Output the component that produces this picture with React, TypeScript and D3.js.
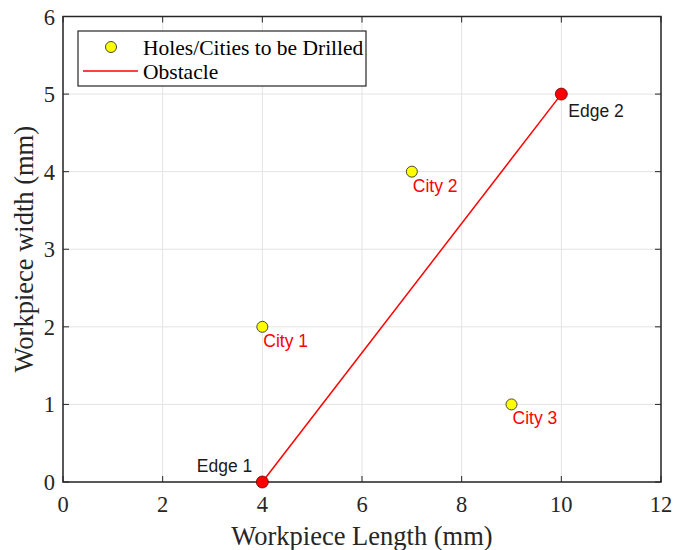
import React, { useEffect, useRef } from 'react'
import * as d3 from 'd3'

const cityNames = ['City 1', 'City 2', 'City 3']
const cityX = [4, 7, 9]
const cityY = [2, 4, 1]
const edgeNames = ['Edge 1', 'Edge 2']
const edgeX = [4, 10]
const edgeY = [0, 5]
const xTicks = [0, 2, 4, 6, 8, 10, 12]
const yTicks = [0, 1, 2, 3, 4, 5, 6]

const W = 686
const H = 550
const m = { left: 63, right: 25, top: 16.5, bottom: 68 }

const App = () => {
    const svgRef = useRef<SVGSVGElement>(null)

    useEffect(() => {
        const svg = d3.select(svgRef.current)
        svg.selectAll('*').remove()

        const x = d3.scaleLinear().domain([0, 12]).range([m.left, W - m.right])
        const y = d3.scaleLinear().domain([0, 6]).range([H - m.bottom, m.top])
        const serif = '"Liberation Serif", "Times New Roman", serif'
        const sans = '"Liberation Sans", Arial, sans-serif'

        // grid
        svg.append('g').selectAll('line').data(xTicks).enter().append('line')
            .attr('x1', d => x(d)).attr('x2', d => x(d))
            .attr('y1', y(0)).attr('y2', y(6))
            .attr('stroke', '#e3e3e3').attr('stroke-width', 1)
        svg.append('g').selectAll('line').data(yTicks).enter().append('line')
            .attr('y1', d => y(d)).attr('y2', d => y(d))
            .attr('x1', x(0)).attr('x2', x(12))
            .attr('stroke', '#e3e3e3').attr('stroke-width', 1)

        // ticks (inward, all four sides)
        const tk = 6
        const ticks = svg.append('g').attr('stroke', '#262626').attr('stroke-width', 1)
        xTicks.forEach(t => {
            ticks.append('line').attr('x1', x(t)).attr('x2', x(t)).attr('y1', y(0)).attr('y2', y(0) - tk)
            ticks.append('line').attr('x1', x(t)).attr('x2', x(t)).attr('y1', y(6)).attr('y2', y(6) + tk)
        })
        yTicks.forEach(t => {
            ticks.append('line').attr('y1', y(t)).attr('y2', y(t)).attr('x1', x(0)).attr('x2', x(0) + tk)
            ticks.append('line').attr('y1', y(t)).attr('y2', y(t)).attr('x1', x(12)).attr('x2', x(12) - tk)
        })

        // box
        svg.append('rect')
            .attr('x', x(0)).attr('y', y(6))
            .attr('width', x(12) - x(0)).attr('height', y(0) - y(6))
            .attr('fill', 'none').attr('stroke', '#262626').attr('stroke-width', 1.5)

        // tick labels
        svg.append('g').selectAll('text').data(xTicks).enter().append('text')
            .attr('x', d => x(d)).attr('y', y(0) + 30)
            .attr('text-anchor', 'middle')
            .attr('font-family', serif).attr('font-size', 22.5).attr('fill', '#262626')
            .text(d => d)
        svg.append('g').selectAll('text').data(yTicks).enter().append('text')
            .attr('x', x(0) - 8).attr('y', d => y(d) + 8)
            .attr('text-anchor', 'end')
            .attr('font-family', serif).attr('font-size', 22.5).attr('fill', '#262626')
            .text(d => d)

        // axis labels
        svg.append('text')
            .attr('x', (x(0) + x(12)) / 2).attr('y', 545)
            .attr('text-anchor', 'middle')
            .attr('font-family', serif).attr('font-size', 26.5).attr('fill', '#262626')
            .text('Workpiece Length (mm)')
        svg.append('text')
            .attr('transform', `translate(33, ${(y(0) + y(6)) / 2}) rotate(-90)`)
            .attr('text-anchor', 'middle')
            .attr('font-family', serif).attr('font-size', 26.5).attr('fill', '#262626')
            .text('Workpiece width (mm)')

        // obstacle line
        svg.append('path')
            .datum(edgeX.map((d, i) => [d, edgeY[i]] as [number, number]))
            .attr('d', d3.line<[number, number]>().x(d => x(d[0])).y(d => y(d[1])))
            .attr('fill', 'none').attr('stroke', '#ff0000').attr('stroke-width', 1.5)

        // edge points
        edgeX.forEach((ex, i) => {
            svg.append('circle')
                .attr('cx', x(ex)).attr('cy', y(edgeY[i])).attr('r', 6)
                .attr('fill', '#ff0000').attr('stroke', '#6b0000').attr('stroke-width', 0.8)
        })
        svg.append('text')
            .attr('x', x(edgeX[0]) - 10).attr('y', y(edgeY[0]) - 10)
            .attr('text-anchor', 'end')
            .attr('font-family', sans).attr('font-size', 17.5).attr('fill', '#1a1a1a')
            .text(edgeNames[0])
        svg.append('text')
            .attr('x', x(edgeX[1]) + 7).attr('y', y(edgeY[1]) + 23)
            .attr('font-family', sans).attr('font-size', 17.5).attr('fill', '#1a1a1a')
            .text(edgeNames[1])

        // cities
        cityX.forEach((cx, i) => {
            svg.append('circle')
                .attr('cx', x(cx)).attr('cy', y(cityY[i])).attr('r', 5.5)
                .attr('fill', '#ffff00').attr('stroke', '#333').attr('stroke-width', 0.9)
            svg.append('text')
                .attr('x', x(cx) + 1).attr('y', y(cityY[i]) + 20)
                .attr('font-family', sans).attr('font-size', 17.5).attr('fill', '#ff0000')
                .text(cityNames[i])
        })

        // legend
        const lg = svg.append('g')
        lg.append('rect')
            .attr('x', 78).attr('y', 31).attr('width', 288).attr('height', 55)
            .attr('fill', '#fff').attr('stroke', '#262626').attr('stroke-width', 1.2)
        lg.append('circle')
            .attr('cx', 111).attr('cy', 47).attr('r', 5.5)
            .attr('fill', '#ffff00').attr('stroke', '#333').attr('stroke-width', 0.9)
        lg.append('line')
            .attr('x1', 83).attr('x2', 138).attr('y1', 71).attr('y2', 71)
            .attr('stroke', '#ff0000').attr('stroke-width', 1.5)
        lg.append('text')
            .attr('x', 143).attr('y', 55)
            .attr('font-family', serif).attr('font-size', 21.5).attr('fill', '#000')
            .text('Holes/Cities to be Drilled')
        lg.append('text')
            .attr('x', 143).attr('y', 79)
            .attr('font-family', serif).attr('font-size', 21.5).attr('fill', '#000')
            .text('Obstacle')
    }, [])

    return (
        <svg ref={svgRef} width={W} height={H} style={{ position: 'absolute', left: 0, top: 0, background: '#fff' }}></svg>
    )
}

export default App
